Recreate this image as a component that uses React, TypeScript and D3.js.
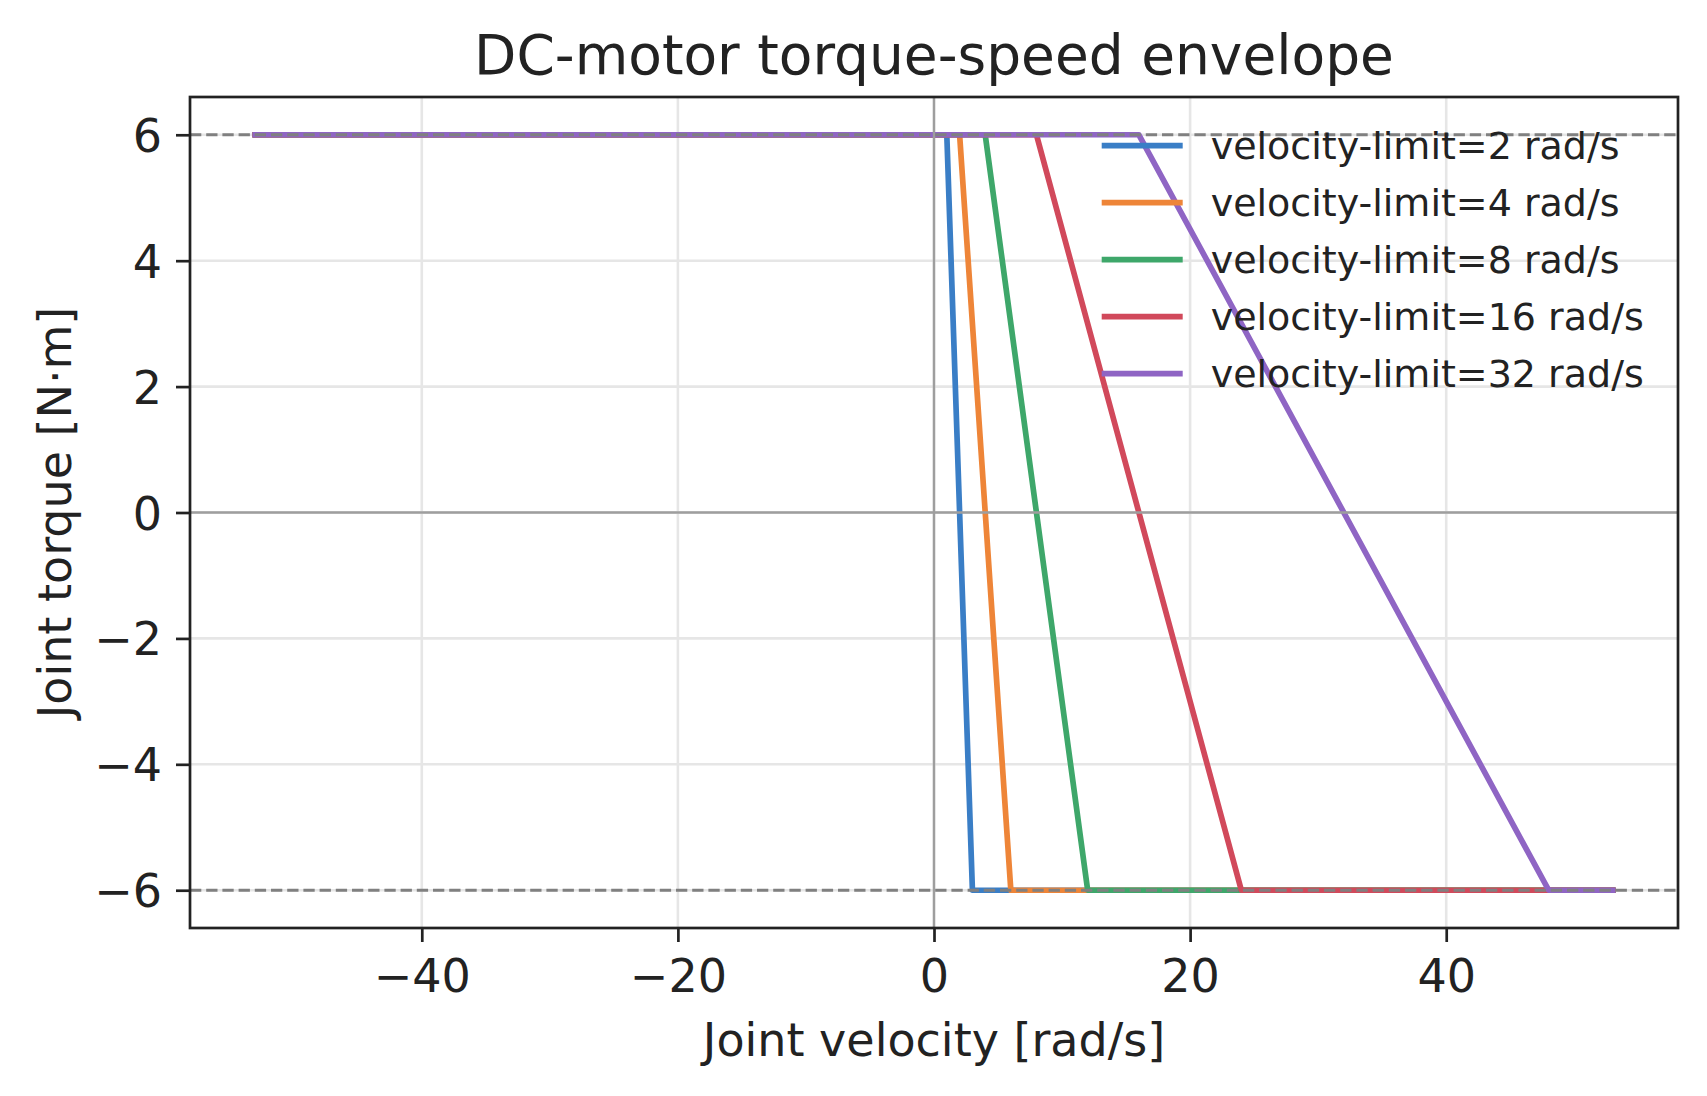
import React, { useEffect, useRef } from 'react';
import * as d3 from 'd3';

// velocity limits of each curve and the speeds where the torque starts / stops falling
const velocityLimits = [2, 4, 8, 16, 32];
const kneeSpeeds = [1, 2, 4, 8, 16];
const stallSpeeds = [3, 6, 12, 24, 48];
const speedRange = [-53, 53];
const torqueLimits = [6, -6];
const seriesColors = ['#3a7ec6', '#ee8538', '#3ea76a', '#d1495b', '#8f65c4'];
const xTicks = [-40, -20, 0, 20, 40];
const yTicks = [-6, -4, -2, 0, 2, 4, 6];

const WIDTH = 1707;
const HEIGHT = 1096;
const FONT = '"DejaVu Sans", Verdana, sans-serif';
const INK = '#222222';

const App: React.FC = () => {
  const svgRef = useRef<SVGSVGElement>(null);

  useEffect(() => {
    if (!svgRef.current) return;
    const root = d3.select(svgRef.current);
    root.selectAll('*').remove();

    const margin = { top: 97, right: 29, bottom: 168, left: 190 };
    const innerWidth = WIDTH - margin.left - margin.right;
    const innerHeight = HEIGHT - margin.top - margin.bottom;

    const x = d3.scaleLinear().domain([-58.1, 58.1]).range([0, innerWidth]);
    const y = d3.scaleLinear().domain([-6.6, 6.6]).range([innerHeight, 0]);

    const svg = root
      .attr('width', WIDTH)
      .attr('height', HEIGHT)
      .append('g')
      .attr('transform', `translate(${margin.left},${margin.top})`);

    svg.append('rect')
      .attr('width', innerWidth)
      .attr('height', innerHeight)
      .attr('fill', '#ffffff');

    // grid
    svg.append('g')
      .selectAll('line')
      .data(xTicks)
      .join('line')
      .attr('x1', d => x(d))
      .attr('x2', d => x(d))
      .attr('y1', 0)
      .attr('y2', innerHeight)
      .style('stroke', '#e6e6e6')
      .style('stroke-width', 2.6);

    svg.append('g')
      .selectAll('line')
      .data(yTicks)
      .join('line')
      .attr('x1', 0)
      .attr('x2', innerWidth)
      .attr('y1', d => y(d))
      .attr('y2', d => y(d))
      .style('stroke', '#e6e6e6')
      .style('stroke-width', 2.6);

    // curves
    const series = velocityLimits.map((v, i) => ({
      label: `velocity-limit=${v} rad/s`,
      color: seriesColors[i],
      points: [
        [speedRange[0], torqueLimits[0]],
        [kneeSpeeds[i], torqueLimits[0]],
        [stallSpeeds[i], torqueLimits[1]],
        [speedRange[1], torqueLimits[1]],
      ] as [number, number][],
    }));

    const line = d3.line<[number, number]>()
      .x(d => x(d[0]))
      .y(d => y(d[1]));

    svg.append('g')
      .selectAll('path')
      .data(series)
      .join('path')
      .attr('d', d => line(d.points))
      .style('fill', 'none')
      .style('stroke', d => d.color)
      .style('stroke-width', 5.7)
      .style('stroke-linejoin', 'round')
      .style('stroke-linecap', 'square');

    // zero lines
    svg.append('line')
      .attr('x1', x(0)).attr('x2', x(0))
      .attr('y1', 0).attr('y2', innerHeight)
      .style('stroke', '#9e9e9e')
      .style('stroke-width', 2.4);
    svg.append('line')
      .attr('x1', 0).attr('x2', innerWidth)
      .attr('y1', y(0)).attr('y2', y(0))
      .style('stroke', '#9e9e9e')
      .style('stroke-width', 2.4);

    // torque limits
    svg.append('g')
      .selectAll('line')
      .data(torqueLimits)
      .join('line')
      .attr('x1', 0)
      .attr('x2', innerWidth)
      .attr('y1', d => y(d))
      .attr('y2', d => y(d))
      .style('stroke', '#808080')
      .style('stroke-width', 3.1)
      .style('stroke-dasharray', '11.3 4.9');

    // axes
    const xAxis = svg.append('g')
      .attr('transform', `translate(0,${innerHeight})`)
      .call(d3.axisBottom(x).tickValues(xTicks).tickSize(14).tickSizeOuter(0));
    xAxis.select('.domain').remove();
    xAxis.selectAll('line').style('stroke', INK).style('stroke-width', 2.7);
    xAxis.selectAll('text')
      .attr('y', 63.5)
      .attr('dy', null)
      .style('font-family', FONT)
      .style('font-size', '46px')
      .style('fill', INK);

    const yAxis = svg.append('g')
      .call(d3.axisLeft(y).tickValues(yTicks).tickSize(14).tickSizeOuter(0));
    yAxis.select('.domain').remove();
    yAxis.selectAll('line').style('stroke', INK).style('stroke-width', 2.7);
    yAxis.selectAll('text')
      .attr('x', -28)
      .attr('dy', '0.36em')
      .style('font-family', FONT)
      .style('font-size', '46px')
      .style('fill', INK);

    // frame
    svg.append('rect')
      .attr('width', innerWidth)
      .attr('height', innerHeight)
      .style('fill', 'none')
      .style('stroke', INK)
      .style('stroke-width', 2.7);

    // legend
    const legend = svg.append('g')
      .attr('transform', `translate(${1101.7 - margin.left},${145.7 - margin.top})`);
    const rows = legend.selectAll('g')
      .data(series)
      .join('g')
      .attr('transform', (_, i) => `translate(0,${i * 57})`);
    rows.append('line')
      .attr('x1', 0)
      .attr('x2', 81)
      .style('stroke', d => d.color)
      .style('stroke-width', 5.7);
    rows.append('text')
      .attr('x', 109)
      .attr('dy', '0.36em')
      .style('font-family', FONT)
      .style('font-size', '38px')
      .style('fill', INK)
      .text(d => d.label);

    // title and axis labels
    root.append('text')
      .attr('x', margin.left + innerWidth / 2)
      .attr('y', 74)
      .attr('text-anchor', 'middle')
      .style('font-family', FONT)
      .style('font-size', '55px')
      .style('fill', INK)
      .text('DC-motor torque-speed envelope');

    root.append('text')
      .attr('x', margin.left + innerWidth / 2)
      .attr('y', 1056)
      .attr('text-anchor', 'middle')
      .style('font-family', FONT)
      .style('font-size', '46px')
      .style('fill', INK)
      .text('Joint velocity [rad/s]');

    root.append('text')
      .attr('transform', `translate(71,${margin.top + innerHeight / 2}) rotate(-90)`)
      .attr('text-anchor', 'middle')
      .style('font-family', FONT)
      .style('font-size', '46px')
      .style('fill', INK)
      .text('Joint torque [N·m]');
  }, []);

  return (
    <div style={{ position: 'absolute', left: 0, top: 0, background: '#ffffff' }}>
      <svg ref={svgRef} style={{ display: 'block' }} />
    </div>
  );
};

export default App;
